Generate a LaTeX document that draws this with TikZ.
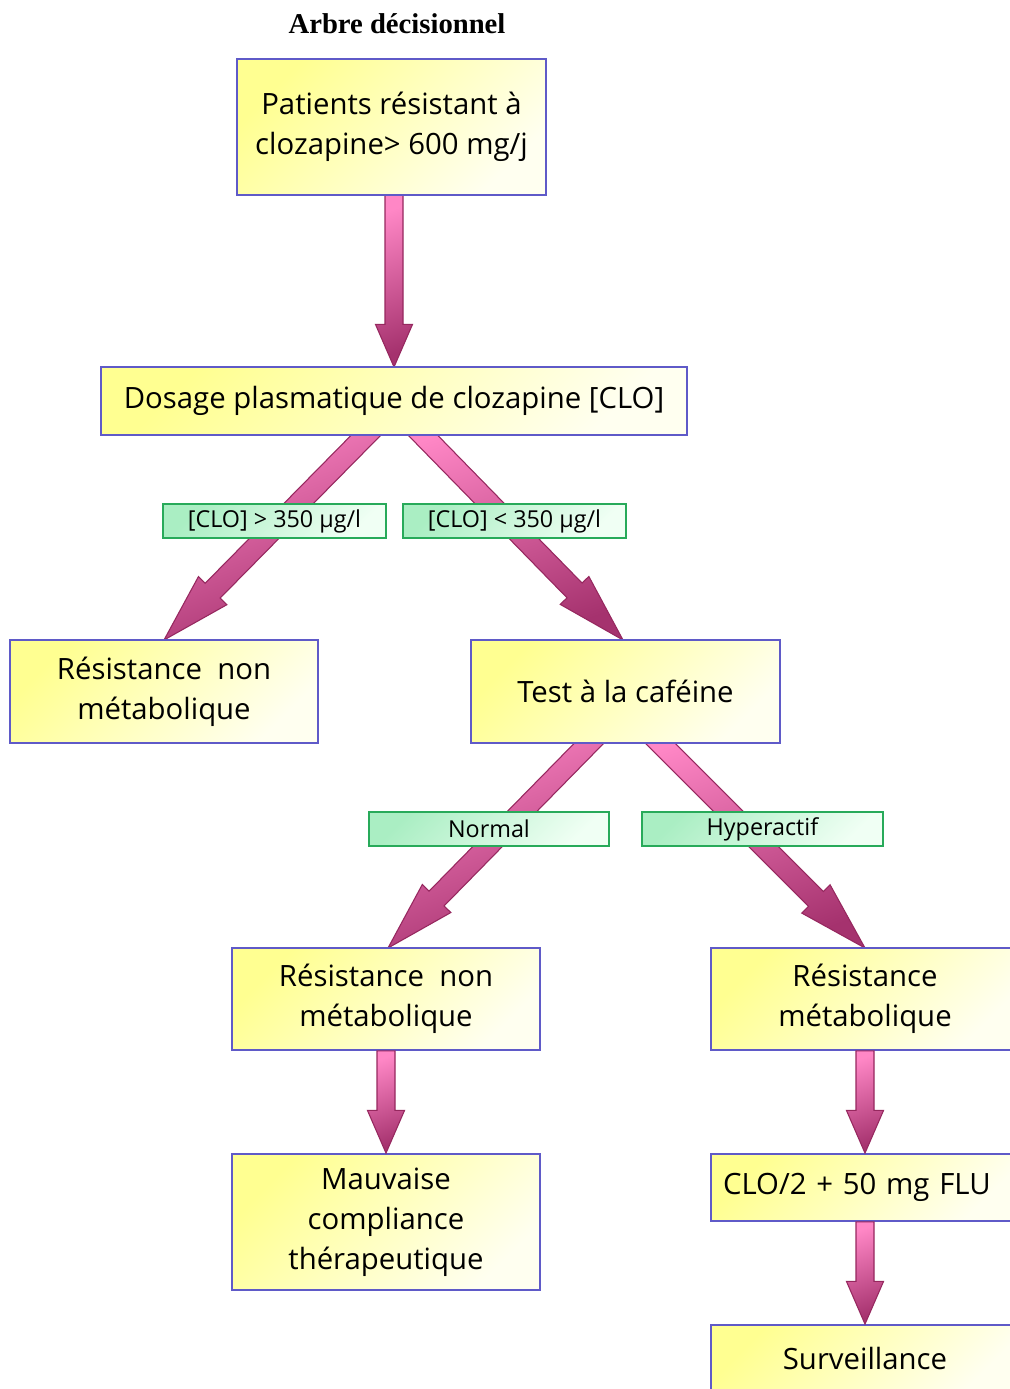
\documentclass[tikz,border=0pt]{standalone}
\usepackage{fontspec}
\setmainfont{Open Sans}
\newfontfamily\titlefont{Liberation Serif}
\usetikzlibrary{calc}

\definecolor{boxborder}{RGB}{95,90,200}
\definecolor{boxtop}{RGB}{255,255,145}
\definecolor{boxbot}{RGB}{255,255,240}
\definecolor{lblborder}{RGB}{40,170,90}
\definecolor{lbltop}{RGB}{170,238,195}
\definecolor{lblbot}{RGB}{240,255,244}
\definecolor{arrlight}{RGB}{255,135,198}
\definecolor{arrdark}{RGB}{165,50,110}
\definecolor{arredge}{RGB}{150,40,95}

\tikzset{
  boxnode/.style={draw=boxborder, line width=1.4pt, top color=boxtop, bottom color=boxbot,
    shading angle=45, align=center, inner sep=0pt,
    font=\fontsize{22}{30}\selectfont},
  lblnode/.style={draw=lblborder, line width=1.2pt, top color=lbltop, bottom color=lblbot,
    shading angle=45, inner sep=0pt, minimum height=25.5pt,
    font=\fontsize{17.5}{19}\selectfont},
  arrowbody/.style={draw=arredge, line width=0.8pt, line join=miter,
    top color=arrlight, bottom color=arrdark, shading angle=20},
  titlenode/.style={font=\titlefont\bfseries\fontsize{21.5}{24}\selectfont, inner sep=0pt}
}

% #1 start, #2 end, #3 shaft half width, #4 head half width, #5 head length
\newcommand\fatarrow[5]{%
  \path[arrowbody] ($(#1)!#3!90:(#2)$) -- ($(#2)!#5!(#1)!#3!90:(#2)$)
    -- ($(#2)!#5!(#1)!#4!90:(#2)$) -- (#2)
    -- ($(#2)!#5!(#1)!#4!-90:(#2)$) -- ($(#2)!#5!(#1)!#3!-90:(#2)$)
    -- ($(#1)!#3!-90:(#2)$) -- cycle;}

\begin{document}
\begin{tikzpicture}[x=0.75pt, y=-0.75pt]
\useasboundingbox (0,0) rectangle (1010,1389);
\clip (0,0) rectangle (1010,1389);

\node[titlenode] (title) at (397,24) {Arbre décisionnel};

% node positions (drawn after the arrows so that arrow tops are covered)
\path (391.5,127) coordinate (p1) (394,401) coordinate (p2) (164,691.5) coordinate (p3)
  (625.5,691.5) coordinate (p4) (386,999) coordinate (p5) (865,999) coordinate (p6)
  (386,1222) coordinate (p7) (865,1187.5) coordinate (p8) (865,1358.5) coordinate (p9);

% anchor points of the boxes
\coordinate (b1s) at ($(p1)+(2.5,68)$);
\coordinate (b2n) at ($(p2)+(0,-34)$);
\coordinate (b2s) at ($(p2)+(0,34)$);
\coordinate (b3n) at ($(p3)+(0,-51.5)$);
\coordinate (b4n) at ($(p4)+(-2.5,-51.5)$);
\coordinate (b4s) at ($(p4)+(0,51.5)$);
\coordinate (b5n) at ($(p5)+(2,-51)$);
\coordinate (b6n) at ($(p6)+(0,-51)$);

% arrow start points (inside the boxes)
\coordinate (s2l) at ($(b2s)+(-14,-14)$);
\coordinate (s2r) at ($(b2s)+(15,-14)$);
\coordinate (s4l) at ($(b4s)+(-22.5,-14)$);
\coordinate (s4r) at ($(b4s)+(20.5,-14)$);

\fatarrow{b1s}{b2n}{6.75pt}{13.9pt}{32pt}
\fatarrow{s2l}{b3n}{7.9pt}{15pt}{52pt}
\fatarrow{s2r}{b4n}{7.9pt}{15pt}{52pt}
\fatarrow{s4l}{b5n}{7.9pt}{15pt}{52pt}
\fatarrow{s4r}{b6n}{7.9pt}{15pt}{52pt}

\node[boxnode, minimum width=231.75pt, minimum height=102pt] (b1) at (p1)
  {Patients résistant à\\clozapine> 600 mg/j};
\node[boxnode, minimum width=439.5pt, minimum height=51pt] (b2) at (p2)
  {Dosage plasmatique de clozapine [CLO]};
\node[boxnode, minimum width=231pt, minimum height=77.25pt] (b3) at (p3)
  {Résistance~~non\\métabolique};
\node[boxnode, minimum width=231.75pt, minimum height=77.25pt] (b4) at (p4)
  {Test à la caféine};
\node[boxnode, minimum width=231pt, minimum height=76.5pt] (b5) at (p5)
  {Résistance~~non\\métabolique};
\node[boxnode, minimum width=231pt, minimum height=76.5pt] (b6) at (p6)
  {Résistance\\métabolique};
\node[boxnode, minimum width=231pt, minimum height=102pt] (b7) at (p7)
  {Mauvaise\\compliance\\thérapeutique};
\node[boxnode, minimum width=231pt, minimum height=50.25pt, text width=213pt,
  align=left, inner xsep=9pt] (b8) at (p8) {CLO/2 + 50 mg FLU};
\node[boxnode, minimum width=231pt, minimum height=50.25pt] (b9) at (p9)
  {Surveillance};

\fatarrow{b5.south}{b7.north}{6.75pt}{13.9pt}{32pt}
\fatarrow{b6.south}{b8.north}{6.75pt}{13.9pt}{32pt}
\fatarrow{b8.south}{b9.north}{6.75pt}{13.9pt}{32pt}

\node[lblnode, minimum width=167.25pt] (l1) at (274.5,521) {[CLO] > 350 µg/l};
\node[lblnode, minimum width=167.25pt] (l2) at (514.5,521) {[CLO] < 350 µg/l};
\node[lblnode, minimum width=180pt] (l3) at (489,829) {Normal};
\node[lblnode, minimum width=180.75pt] (l4) at (762.5,829) {Hyperactif};
\end{tikzpicture}
\end{document}
